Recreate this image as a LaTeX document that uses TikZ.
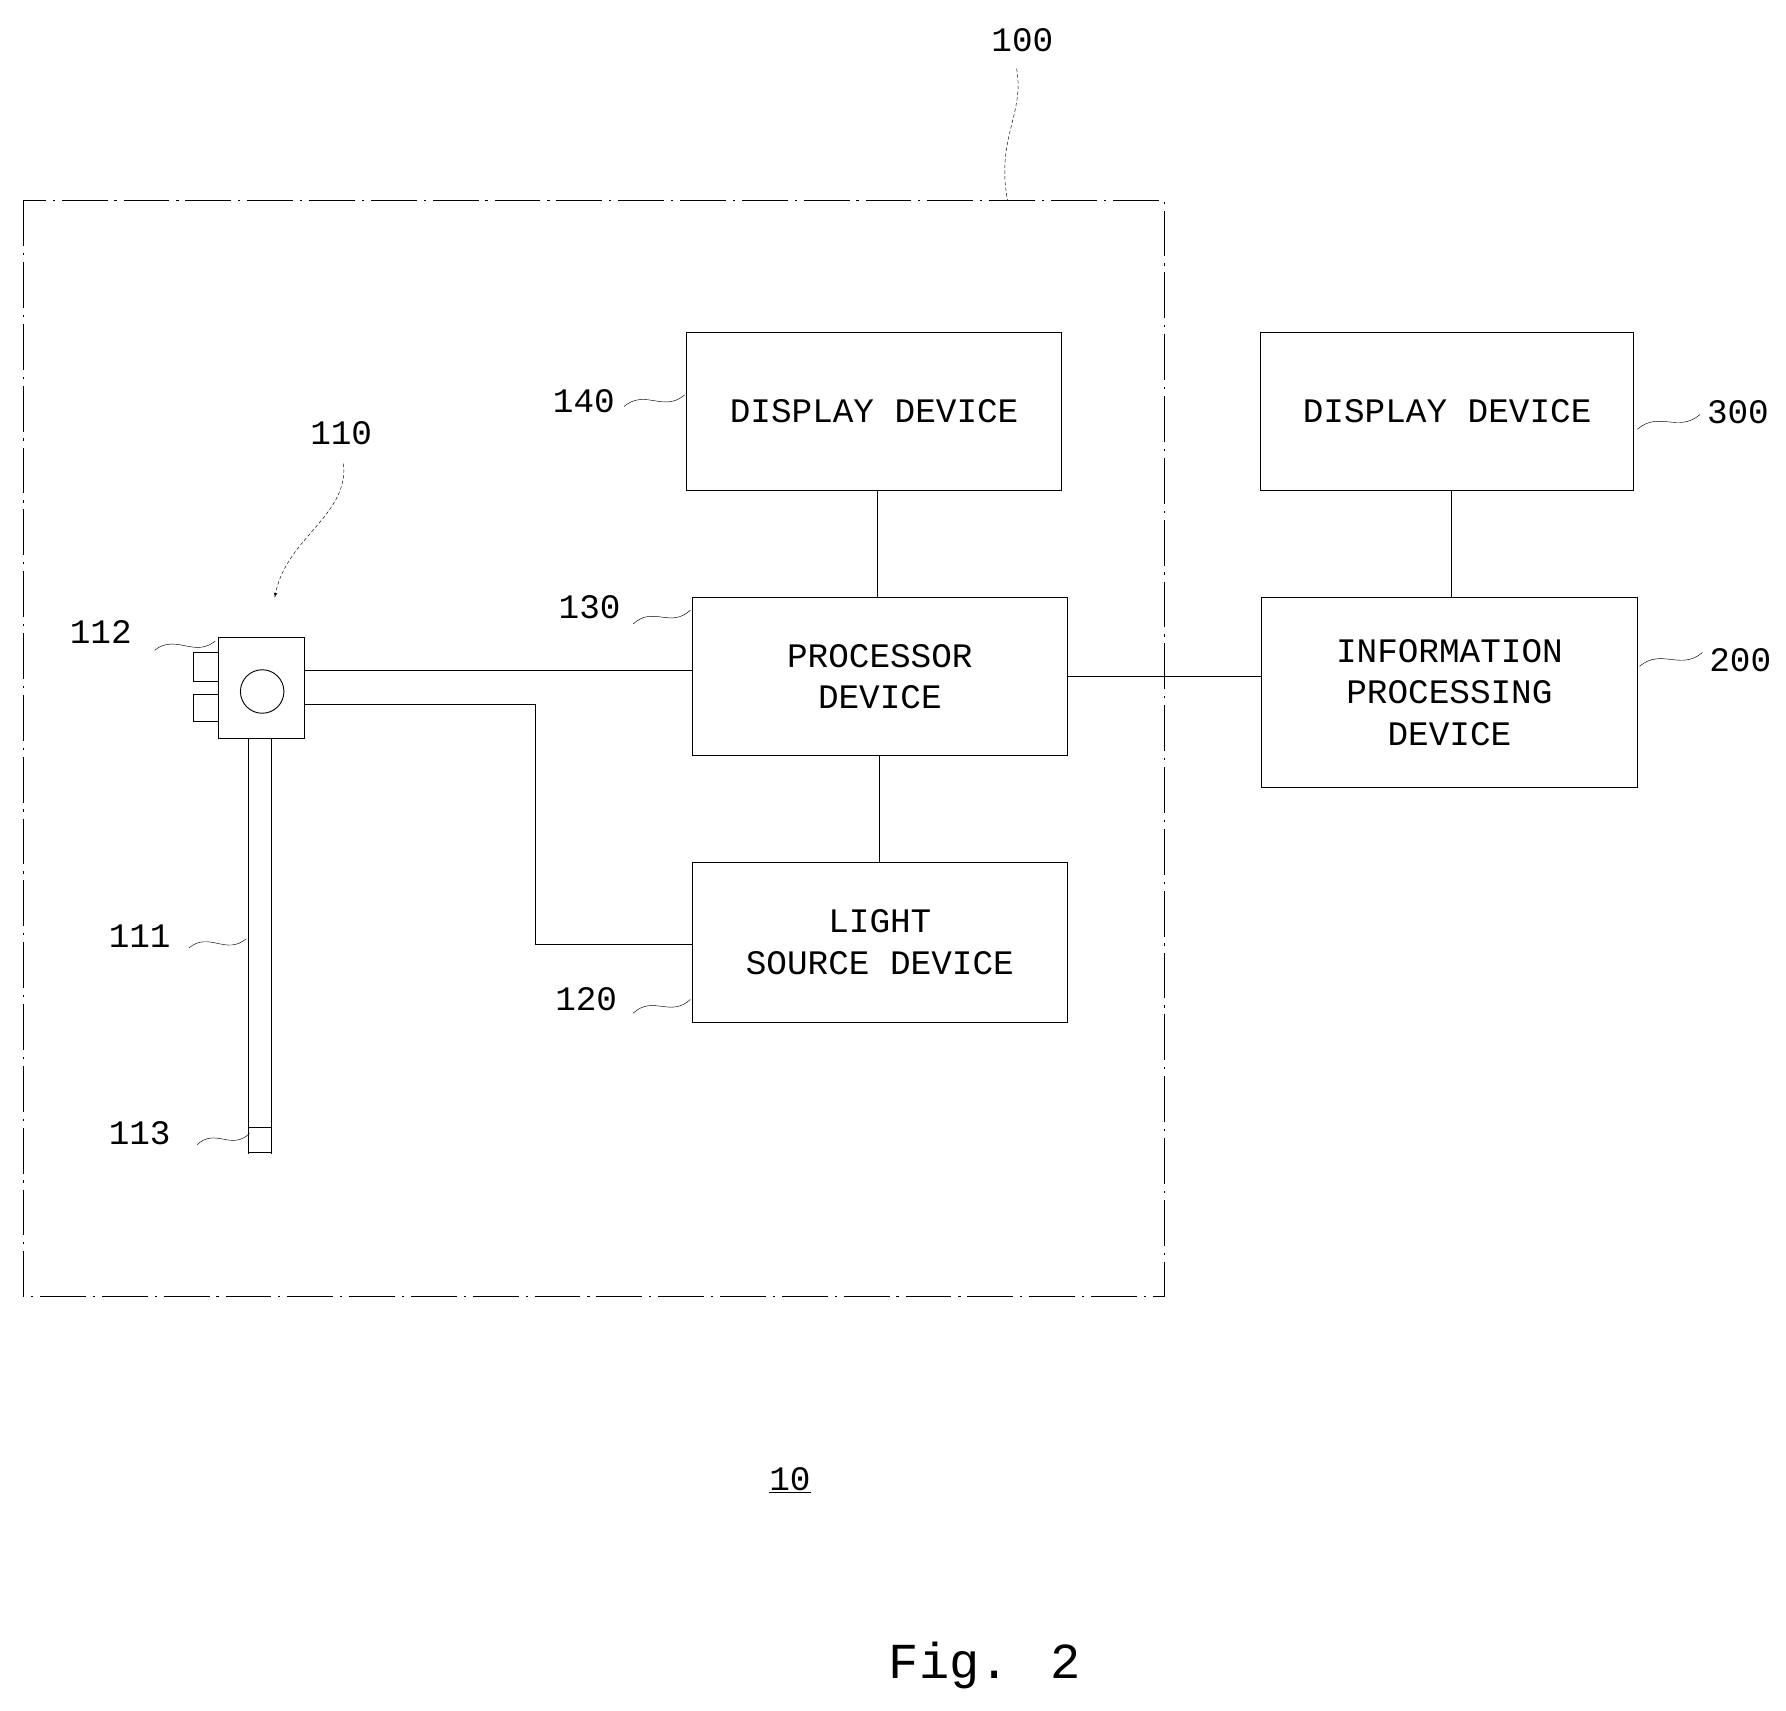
\documentclass[tikz,border=0pt]{standalone}
\usepackage{fontspec}
\setmainfont{Liberation Mono}
\usetikzlibrary{calc}
\begin{document}
\begin{tikzpicture}[x=1pt,y=-1pt,
  box/.style={draw,thick,align=center,font=\fontsize{30}{36}\selectfont},
  lab/.style={font=\fontsize{30}{30}\selectfont},
  ln/.style={thick},
  tl/.style={thin,to path={.. controls ($(\tikztostart)!0.35!(\tikztotarget)+(0,-12)$) and ($(\tikztostart)!0.65!(\tikztotarget)+(0,12)$) .. (\tikztotarget)}}]
\useasboundingbox (0,0) rectangle (1560,1494);
\draw[dash pattern=on 40pt off 6pt on 2pt off 6pt,thin] (20,175) rectangle (1017,1132);
\node[box,minimum width=327,minimum height=138] (d140) at (763.5,359) {DISPLAY DEVICE};
\node[box,minimum width=327,minimum height=138] (p130) at (768.5,591) {PROCESSOR\\DEVICE};
\node[box,minimum width=327,minimum height=140] (l120) at (768.5,823) {LIGHT\\SOURCE DEVICE};
\node[box,minimum width=326,minimum height=138] (d300) at (1264,359) {DISPLAY DEVICE};
\node[box,minimum width=328,minimum height=166] (i200) at (1266,605) {INFORMATION\\PROCESSING\\DEVICE};
\draw[ln] (766,428) -- (766,522);
\draw[ln] (768,660) -- (768,753);
\draw[ln] (p130.east) -- (i200.west|-p130.east);
\draw[ln] (1268,428) -- (1268,522);
% endoscope
\node[draw,thick,minimum width=75,minimum height=88,inner sep=0] (h) at (228.5,601) {};
\node[draw,thick,circle,minimum size=38,inner sep=0] (c) at (229,604) {};
\draw[thick] (191,570) -| (169,595) -- (191,595);
\draw[thick] (191,607) -| (169,630) -- (191,630);
\draw[ln] (266,586) -- (605,586);
\draw[ln] (266,615) -- (468,615) -- (468,825) -- (605,825);
\draw[ln] (217,645) -- (217,1008) (237,645) -- (237,1008);
\node[draw,thick,minimum width=20,minimum height=22,inner sep=0] (t113) at (227,996) {};
% labels
\node[lab] (n100) at (893,35) {100};
\draw[thin,densely dashed] (888,60) .. controls (895,100) and (870,120) .. (880,175);
\node[lab] (n110) at (298,378) {110};
\draw[thin,densely dashed,-latex] (300,405) .. controls (305,450) and (250,470) .. (240,522);
\coordinate (a112) at (135,568); \coordinate (b112) at (188,560);
\node[lab] (n112) at (88,552) {112};
\draw[tl] (a112) to (b112);
\node[lab] (n111) at (122,818) {111};
\coordinate (a111) at (165,828); \coordinate (b111) at (215,820);
\draw[tl] (a111) to (b111);
\node[lab] (n113) at (122,990) {113};
\coordinate (a113) at (172,1000); \coordinate (b113) at (218,990);
\draw[tl] (a113) to (b113);
\node[lab] (n140) at (510,350) {140};
\coordinate (a140) at (545,355); \coordinate (b140) at (598,345);
\draw[tl] (a140) to (b140);
\node[lab] (n130) at (515,530) {130};
\coordinate (a130) at (553,545); \coordinate (b130) at (603,533);
\draw[tl] (a130) to (b130);
\node[lab] (n120) at (512,873) {120};
\coordinate (a120) at (553,885); \coordinate (b120) at (603,873);
\draw[tl] (a120) to (b120);
\node[lab] (n300) at (1518,360) {300};
\coordinate (a300) at (1430,375); \coordinate (b300) at (1485,362);
\draw[tl] (a300) to (b300);
\node[lab] (n200) at (1520,577) {200};
\coordinate (a200) at (1432,582); \coordinate (b200) at (1487,570);
\draw[tl] (a200) to (b200);
\node[lab] (n10) at (690,1293) {\underline{10}};
\node[font=\fontsize{44}{44}\selectfont] (fig) at (860,1455) {Fig. 2};
\end{tikzpicture}
\end{document}
